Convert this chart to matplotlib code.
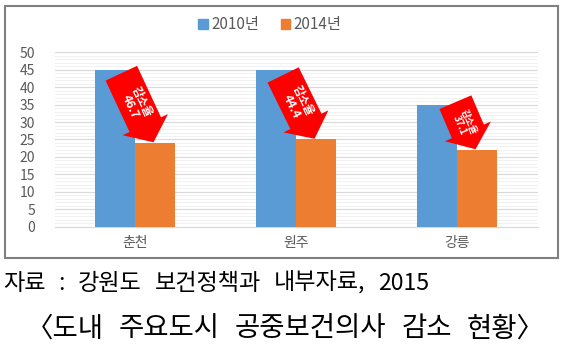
import numpy as np
import matplotlib
matplotlib.use("Agg")
import matplotlib.pyplot as plt
from matplotlib.patches import Rectangle, Patch

plt.rcParams['font.family'] = ['Noto Sans CJK KR', 'DejaVu Sans']

cities = ["춘천", "원주", "강릉"]
doc_2010 = [45, 45, 35]
doc_2014 = [24, 25, 22]
rates = ["46.7", "44.4", "37.1"]
series_names = ["2010년", "2014년"]
source_text = "자료 : 강원도 보건정책과 내부자료, 2015"
title_text = "〈도내 주요도시 공중보건의사 감소 현황〉"

BLUE = "#5B9BD5"
ORANGE = "#ED7D31"
GRAY = "#595959"

W, H = 564, 353
fig = plt.figure(figsize=(W / 100, H / 100), dpi=100)
ax = fig.add_axes([54.5 / W, 1 - 226.7 / H, 483 / W, 174.4 / H])

x = np.arange(len(cities))
w = 0.25
ax.bar(x - w / 2, doc_2010, w, color=BLUE, zorder=3)
ax.bar(x + w / 2, doc_2014, w, color=ORANGE, zorder=3)

ax.set_xlim(-0.5, len(cities) - 0.5)
ax.set_ylim(0, 50)
ax.set_yticks(np.arange(0, 51, 5))
ax.set_yticks(np.arange(0, 51, 1), minor=True)
ax.grid(axis='y', which='major', color="#d9d9d9", lw=0.8, zorder=0)
ax.grid(axis='y', which='minor', color="#efefef", lw=0.6, zorder=0)
ax.set_xticks(x)
ax.set_xticklabels(cities)
ax.tick_params(axis='both', which='both', length=0, colors=GRAY, labelsize=10)
ax.tick_params(axis='y', pad=14)
ax.tick_params(axis='x', pad=7)
for s in ["top", "right", "left"]:
    ax.spines[s].set_visible(False)
ax.spines["bottom"].set_color("#d9d9d9")

# red arrows from the 2010 bar top down to the 2014 bar top
tail_dx = [-0.085, -0.08, -0.01]
tail_dy = [-1.0, -1.5, 0.7]
txt_size = [8.5, 8.5, 7]
for i in range(len(cities)):
    tail = (x[i] + tail_dx[i], doc_2010[i] + tail_dy[i])
    tip = (x[i] + 0.115, doc_2014[i] + 0.2)
    ax.annotate("", xy=tip, xytext=tail,
                arrowprops=dict(arrowstyle="simple,head_length=14,head_width=36,tail_width=25",
                                mutation_scale=1, color="#FF0000", lw=0,
                                shrinkA=0, shrinkB=0), zorder=5)
    p0 = ax.transData.transform(tail)
    p1 = ax.transData.transform(tip)
    ang = np.degrees(np.arctan2(p1[1] - p0[1], p1[0] - p0[0]))
    mid = ax.transData.inverted().transform(p0 + 0.45 * (p1 - p0))
    ax.text(mid[0], mid[1], "감소율\n" + rates[i], rotation=ang, rotation_mode='anchor',
            ha='center', va='center', color='white', fontsize=txt_size[i],
            fontweight='bold', linespacing=1.0, zorder=6)

handles = [Patch(color=BLUE), Patch(color=ORANGE)]
fig.legend(handles, series_names, loc='center', bbox_to_anchor=(270 / W, 1 - 25 / H), ncol=2,
           frameon=False, fontsize=11, labelcolor=GRAY, handlelength=0.6, handleheight=0.6,
           handletextpad=0.25, columnspacing=1.4)

fig.patches.append(Rectangle((5 / W, 1 - 258 / H), 553 / W, 252 / H,
                             transform=fig.transFigure, fill=False, ec="#7f7f7f", lw=1.5))

renderer = fig.canvas.get_renderer()


def spaced_text(s, x0, x1, y, gap):
    # lay the words out one by one, font size chosen so the line spans x0..x1
    words = s.split(" ")
    probe = [fig.text(0, 0, wd, fontsize=10) for wd in words]
    widths = sum(t.get_window_extent(renderer).width for t in probe)
    for t in probe:
        t.remove()
    size = 10 * (x1 - x0 - gap * (len(words) - 1)) / widths
    xp = x0
    for wd in words:
        t = fig.text(xp / W, 1 - y / H, wd, ha='left', va='center', fontsize=size, color='black')
        xp += t.get_window_extent(renderer).width + gap


spaced_text(source_text, 3, 430, 283, 13)
spaced_text(title_text, 26, 545, 329, 15)

fig.savefig("out.png", dpi=100)
